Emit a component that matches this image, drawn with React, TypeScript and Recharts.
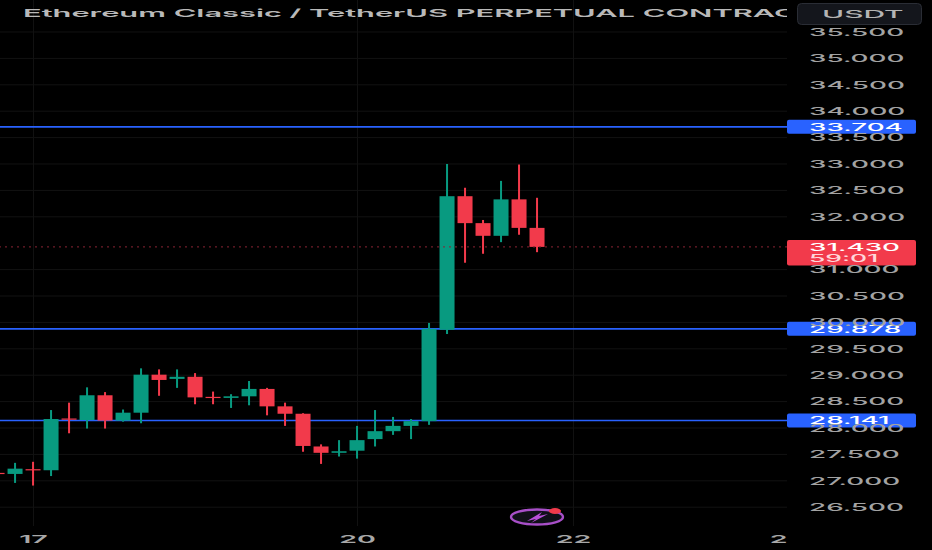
import { Bar, CartesianGrid, ComposedChart, ReferenceLine, XAxis, YAxis } from "recharts"

// 4h candles
const opens = [27.15, 27.13, 27.22, 27.2, 28.18, 28.15, 28.62, 28.14, 28.29, 29.01, 28.93, 28.97, 28.59, 28.57, 28.6, 28.74, 28.41, 28.27, 27.65, 27.53, 27.57, 27.79, 27.94, 28.04, 28.13, 29.86, 32.39, 31.88, 31.64, 32.33, 31.79]
const highs = [27.16, 27.34, 27.36, 28.34, 28.48, 28.77, 28.68, 28.35, 29.13, 29.11, 29.11, 29.04, 28.69, 28.64, 28.89, 28.76, 28.48, 28.28, 27.69, 27.77, 28.04, 28.34, 28.21, 28.17, 29.99, 33.0, 32.55, 31.94, 32.68, 32.99, 32.36]
const lows = [27.12, 26.96, 26.91, 27.09, 27.9, 27.99, 27.99, 28.12, 28.09, 28.61, 28.76, 28.45, 28.45, 28.38, 28.43, 28.24, 28.04, 27.55, 27.32, 27.46, 27.42, 27.65, 27.87, 27.79, 28.06, 29.78, 31.13, 31.3, 31.52, 31.66, 31.33]
const closes = [27.13, 27.23, 27.2, 28.17, 28.16, 28.62, 28.14, 28.29, 29.01, 28.91, 28.97, 28.58, 28.57, 28.6, 28.74, 28.41, 28.27, 27.66, 27.53, 27.56, 27.77, 27.94, 28.04, 28.13, 29.88, 32.39, 31.88, 31.64, 32.33, 31.79, 31.43]

const priceTicks = [26.5, 27, 27.5, 28, 28.5, 29, 29.5, 30, 30.5, 31, 32, 32.5, 33, 33.5, 34, 34.5, 35, 35.5]
const dateTickIndexes = [2, 20, 32, 43.39]
const dateTickLabels = ["17", "20", "22", "2"]
const gridIndexes = [2, 20, 32]
const alertLevels = [33.704, 29.878, 28.141]
const lastPrice = 31.43
const countdown = "59:01"
const title = "Ethereum Classic / TetherUS PERPETUAL CONTRACT"

const candles = opens.map((open, i) => ({
  index: i,
  open,
  close: closes[i],
  high: highs[i],
  low: lows[i],
  range: [lows[i], highs[i]],
}))

const GREEN = "#089a80"
const RED = "#f23a4b"
const BLUE = "#2962ff"
const FONT = "Inter, sans-serif"
const STRETCH = 2.65
const BADGE_X = 787
const BADGE_W = 129
const LABEL_X = 809

function Candle(props: any) {
  const { x, y, width, height, payload } = props
  const { open, close, high, low } = payload
  const perUnit = height / (high - low)
  const top = y + (high - Math.max(open, close)) * perUnit
  const bottom = y + (high - Math.min(open, close)) * perUnit
  const color = close >= open ? GREEN : RED
  return (
    <g>
      <rect x={x + width / 2 - 1} y={y} width={2} height={height} fill={color} />
      <rect x={x} y={top} width={width} height={Math.max(bottom - top, 1.2)} fill={color} />
    </g>
  )
}

function Stretched({ x, y, fill, size = 10.5, weight = 500, sx = STRETCH, children }: any) {
  return (
    <text
      transform={`translate(${x},${y}) scale(${sx},1)`}
      fill={fill}
      fontFamily={FONT}
      fontSize={size}
      fontWeight={weight}
      dominantBaseline="central"
    >
      {children}
    </text>
  )
}

function PriceTick({ y, payload }: any) {
  return (
    <Stretched x={LABEL_X} y={y} fill="#a3a3a3">
      {payload.value.toFixed(3)}
    </Stretched>
  )
}

function DateTick({ x, payload, index }: any) {
  const label = dateTickLabels[dateTickIndexes.indexOf(payload.value)] ?? dateTickLabels[index]
  return (
    <text
      transform={`translate(${x},539) scale(2.6,1)`}
      textAnchor="middle"
      dominantBaseline="central"
      fill="#a8a8a8"
      fontFamily={FONT}
      fontSize={11}
      fontWeight={600}
    >
      {label}
    </text>
  )
}

function AlertBadge({ viewBox, value }: any) {
  const y = viewBox.y
  return (
    <g>
      <rect x={BADGE_X} y={y - 7} width={BADGE_W} height={14} rx={2} fill={BLUE} />
      <Stretched x={LABEL_X} y={y} fill="#ffffff">
        {value.toFixed(3)}
      </Stretched>
    </g>
  )
}

function LastBadge({ viewBox }: any) {
  const y = viewBox.y
  return (
    <g>
      <rect x={BADGE_X} y={y - 7} width={BADGE_W} height={25.5} rx={2} fill={RED} />
      <Stretched x={LABEL_X} y={y} fill="#ffffff">
        {lastPrice.toFixed(3)}
      </Stretched>
      <Stretched x={LABEL_X} y={y + 11.5} fill="#ffd6da" size={10}>
        {countdown}
      </Stretched>
    </g>
  )
}

function Overlay() {
  return (
    <svg width={932} height={550} style={{ position: "absolute", left: 0, top: 0, pointerEvents: "none" }}>
      <defs>
        <clipPath id="titleClip">
          <rect x={0} y={0} width={787} height={30} />
        </clipPath>
      </defs>
      <g clipPath="url(#titleClip)">
        <Stretched x={23} y={13} fill="#b9b9b9" size={11} weight={600} sx={2.8}>
          {title}
        </Stretched>
      </g>
      <rect x={797.5} y={3.5} width={124} height={21} rx={4} fill="#14161c" stroke="#2a2d35" />
      <Stretched x={822} y={14} fill="#b4b4b4" size={10.5} sx={2.85}>
        USDT
      </Stretched>
      <ellipse cx={537} cy={517} rx={26} ry={7.5} fill="#101018" stroke="#a84fc8" strokeWidth={2.4} />
      <path d="M527 521 L542 512 L539 516 L548 514 L531 523 L536 519 Z" fill="#b84fd8" />
      <ellipse cx={555} cy={511} rx={6} ry={3} fill={RED} />
    </svg>
  )
}

export default function App() {
  return (
    <div style={{ position: "relative", width: 932, height: 550, background: "#000", overflow: "hidden" }}>
      <style>{`body{margin:0;background:#000}`}</style>
      <ComposedChart width={932} height={550} data={candles} margin={{ top: 0, right: 0, bottom: 0, left: 0 }}>
        <CartesianGrid
          xAxisId="t"
          yAxisId="p"
          stroke="#121212"
          horizontalValues={priceTicks}
          verticalValues={gridIndexes}
        />
        <XAxis
          xAxisId="t"
          dataKey="index"
          type="number"
          domain={[0.136, 43.86]}
          allowDataOverflow
          ticks={dateTickIndexes}
          interval={0}
          height={24}
          axisLine={false}
          tickLine={false}
          tick={<DateTick />}
        />
        <YAxis
          yAxisId="p"
          orientation="right"
          type="number"
          domain={[26.144, 36.106]}
          allowDataOverflow
          ticks={priceTicks}
          interval={0}
          width={145}
          axisLine={false}
          tickLine={false}
          tick={<PriceTick />}
        />
        <ReferenceLine
          xAxisId="t"
          yAxisId="p"
          y={lastPrice}
          stroke="#8a2433"
          strokeDasharray="2 4"
          zIndex={1200}
          label={<LastBadge />}
        />
        <Bar
          xAxisId="t"
          yAxisId="p"
          dataKey="range"
          barSize={15}
          shape={<Candle />}
          zIndex={1100}
          isAnimationActive={false}
        />
        {alertLevels.map((level) => (
          <ReferenceLine
            key={level}
            xAxisId="t"
            yAxisId="p"
            y={level}
            stroke={BLUE}
            strokeWidth={1.6}
            zIndex={1000}
            label={<AlertBadge value={level} />}
          />
        ))}
      </ComposedChart>
      <Overlay />
    </div>
  )
}
